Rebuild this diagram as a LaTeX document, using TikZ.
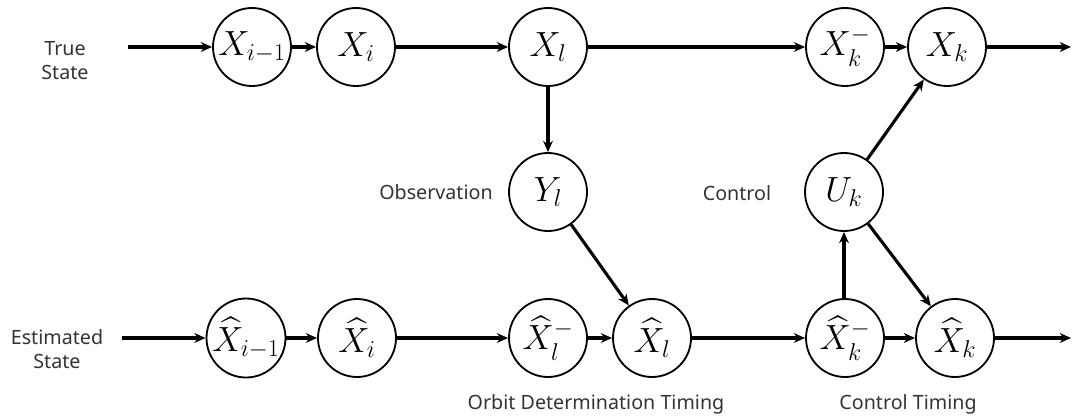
\documentclass[tikz,border=0pt]{standalone}
\usepackage{amsmath}
\usepackage{fontspec}
\setsansfont{Noto Sans}
\usepackage{tikz}
\usetikzlibrary{arrows.meta}

\begin{document}
\begin{tikzpicture}[
  font=\sffamily, >={Stealth[length=8pt,width=7pt]},
  st/.style={draw, circle, line width=1.3pt, minimum size=1.95cm, inner sep=0pt, font=\fontsize{23}{27}\selectfont},
  lbl/.style={font=\sffamily\fontsize{14}{17}\selectfont, text=black!80, align=center},
  flow/.style={->, line width=2.2pt}]
\useasboundingbox (0,0) rectangle (26.8,10.475);
% ---------------- true state
\node[st] (x1) at (6.3,9.3) {$X_{i-1}$};
\node[st] (x2) at (8.9,9.3) {$X_i$};
\node[st] (xl) at (13.7,9.3) {$X_l$};
\node[st] (xkm) at (21.125,9.3) {$X_k^-$};
\node[st] (xk) at (23.675,9.3) {$X_k$};
\coordinate (tin) at (3.2,9.3);
\coordinate (tout) at (26.775,9.3);
\node[lbl] (tlab) at (1.625,8.95) {True\\State};
% ---------------- observation / control
\node[st] (yl) at (13.7,5.675) {$Y_l$};
\node[st] (uk) at (21.1,5.675) {$U_k$};
\node[lbl] (obs) at (10.9,5.675) {Observation};
\node[lbl] (ctl) at (18.425,5.65) {Control};
% ---------------- estimated state
\node[st] (e1) at (6.15,2.025) {$\widehat{X}_{i-1}$};
\node[st] (e2) at (8.925,2.025) {$\widehat{X}_i$};
\node[st] (elm) at (13.7,2.025) {$\widehat{X}_l^-$};
\node[st] (el) at (16.3,2.025) {$\widehat{X}_l$};
\node[st] (ekm) at (21.125,2.025) {$\widehat{X}_k^-$};
\node[st] (ek) at (23.875,2.025) {$\widehat{X}_k$};
\coordinate (ein) at (3.05,2.025);
\coordinate (eout) at (26.775,2.025);
\node[lbl] (elab) at (1.425,1.75) {Estimated\\State};
\node[lbl] (odt) at (14.9,0.375) {Orbit Determination Timing};
\node[lbl] (ctt) at (22.7,0.375) {Control Timing};
% ---------------- connectors
\draw[flow] (tin) -- (x1);
\draw[flow] (x1) -- (x2);
\draw[flow] (x2) -- (xl);
\draw[flow] (xl) -- (xkm);
\draw[flow] (xkm) -- (xk);
\draw[flow] (xk) -- (tout);
\draw[flow] (ein) -- (e1);
\draw[flow] (e1) -- (e2);
\draw[flow] (e2) -- (elm);
\draw[flow] (elm) -- (el);
\draw[flow] (el) -- (ekm);
\draw[flow] (ekm) -- (ek);
\draw[flow] (ek) -- (eout);
\draw[flow] (xl) -- (yl);
\draw[flow] (yl) -- (el);
\draw[flow] (ekm.north -| uk) -- (uk);
\draw[flow] (uk) -- (xk);
\draw[flow] (uk) -- (ek);
\end{tikzpicture}
\end{document}
